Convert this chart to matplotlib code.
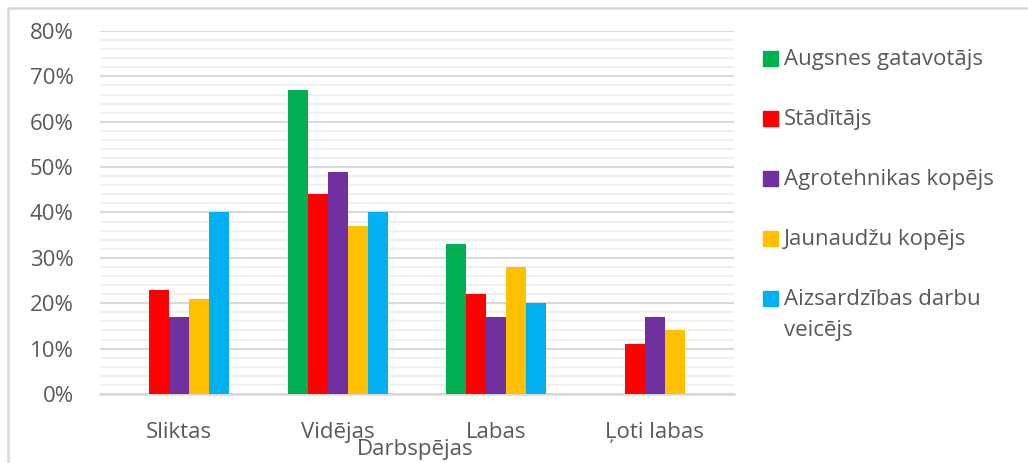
import numpy as np
import matplotlib
matplotlib.use('Agg')
from matplotlib import pyplot as plt
from matplotlib.patches import Rectangle
from matplotlib.ticker import MultipleLocator, PercentFormatter

plt.rcParams['font.family'] = ['Open Sans', 'DejaVu Sans']

categories = ['Sliktas', 'Vidējas', 'Labas', 'Ļoti labas']
series_names = ['Augsnes gatavotājs', 'Stādītājs', 'Agrotehnikas kopējs',
                'Jaunaudžu kopējs', 'Aizsardzības darbu\nveicējs']
augsnes = [0, 67, 33, 0]
staditajs = [23, 44, 22, 11]
agrotehnikas = [17, 49, 17, 17]
jaunaudzu = [21, 37, 28, 14]
aizsardzibas = [40, 40, 20, 0]
colors = ['#00b050', '#ff0000', '#7030a0', '#ffc000', '#00b0f0']

text_col = '#595959'
fs = 16
values = [augsnes, staditajs, agrotehnikas, jaunaudzu, aizsardzibas]

fig = plt.figure(figsize=(10.28, 4.63), dpi=100)
ax = fig.add_axes([100/1028, 69/463, 634/1028, 363/463])

x = np.arange(len(categories))
w = 0.126
for i, (vals, c) in enumerate(zip(values, colors)):
    ax.bar(x + (i - 2) * w, vals, width=w, color=c, zorder=3)

ax.set_xlim(-0.5, 3.5)
ax.set_ylim(0, 80)
ax.yaxis.set_major_locator(MultipleLocator(10))
ax.yaxis.set_minor_locator(MultipleLocator(2))
ax.yaxis.set_major_formatter(PercentFormatter(decimals=0))
ax.grid(axis='y', which='minor', color='#f0f0f0', lw=1.5, zorder=0)
ax.grid(axis='y', which='major', color='#d9d9d9', lw=1.5, zorder=1)
for s in ['top', 'right', 'left']:
    ax.spines[s].set_visible(False)
ax.spines['bottom'].set_color('#d9d9d9')
ax.spines['bottom'].set_linewidth(1.8)
ax.tick_params(axis='both', which='both', length=0, labelsize=fs, colors=text_col)
ax.tick_params(axis='y', pad=19)
ax.tick_params(axis='x', pad=20)
ax.set_xticks(x)
ax.set_xticklabels(categories)
fig.text(415/1028, 1 - 450/463, 'Darbspējas', ha='center', va='center',
         fontsize=fs, color=text_col)

# legend drawn by hand
leg_y = [59, 119, 179, 239, 299]
for name, c, yy in zip(series_names, colors, leg_y):
    fig.patches.append(Rectangle((763/1028, 1 - (yy + 7)/463), 15/1028, 15/463,
                                 color=c, transform=fig.transFigure))
    ty = yy + 16 if '\n' in name else yy
    fig.text(784/1028, 1 - ty/463, name, ha='left', va='center',
             fontsize=fs, color=text_col, linespacing=1.68)

# outer frame
fig.patches.append(Rectangle((8/1028, -0.1), 1.2, 1 - 8/463 + 0.1, fill=False,
                             ec='#d9d9d9', lw=1.8, transform=fig.transFigure))

fig.savefig('out.png', dpi=100)
